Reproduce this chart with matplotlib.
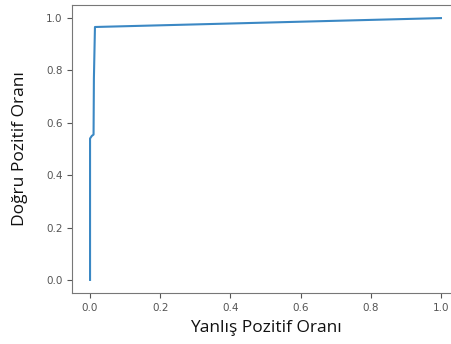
import matplotlib.pyplot as plt

fpr = [0.0, 0.0, 0.005, 0.010, 0.011, 0.014, 1.0]
tpr = [0.0, 0.54, 0.55, 0.555, 0.77, 0.966, 1.0]

fig = plt.figure(figsize=(4.52, 3.44), dpi=100)
ax = fig.add_axes([72.5 / 452, 51 / 344, 386 / 452, 288 / 344])
ax.plot(fpr, tpr, color='#3b88c4', linewidth=1.5)
ax.set_xlim(-0.05, 1.05)
ax.set_ylim(-0.05, 1.05)
ax.set_xticks([0.0, 0.2, 0.4, 0.6, 0.8, 1.0])
ax.set_yticks([0.0, 0.2, 0.4, 0.6, 0.8, 1.0])
ax.tick_params(labelsize=7.5, colors='#555555', length=3.5)
for s in ax.spines.values():
    s.set_color('#777777')
ax.spines['right'].set_visible(False)
ax.set_xlabel('Yanlış Pozitif Oranı', family='Open Sans', fontsize=12.5,
              color='#111111', labelpad=5)
ax.set_ylabel('Doğru Pozitif Oranı', family='Open Sans', fontsize=12.5,
              color='#111111', labelpad=13)
fig.savefig('out.png', dpi=100)
